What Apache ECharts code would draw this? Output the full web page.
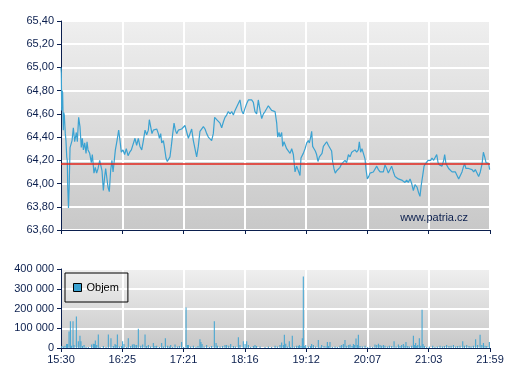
<!DOCTYPE html>
<html>
<head>
<meta charset="utf-8">
<script src="https://cdn.jsdelivr.net/npm/echarts@6/dist/echarts.min.js"></script>
<style>html,body{margin:0;padding:0;background:#fff}#c{width:507px;height:380px}</style>
</head>
<body>
<div id="c"></div>
<script>
// minutes after 15:30 -> price
var pricePoints = [
[0,65.00],[0.3,64.95],[0.6,64.63],[1.0,64.80],[1.5,64.78],[2.1,64.46],[2.5,64.61],[3.0,64.59],[3.9,64.43],[4.5,64.37],[5.2,64.23],[5.7,64.20],[6.1,63.97],[6.8,63.79],[7.4,63.97],[8.2,64.31],[8.8,64.31],[10.0,64.37],[11.2,64.48],[12.4,64.36],[13.9,64.44],[14.8,64.36],[16.0,64.57],[17.2,64.49],[18.4,64.31],[19.3,64.39],[20.3,64.29],[21.5,64.35],[22.7,64.26],[23.6,64.36],[24.5,64.29],[26.0,64.26],[27.5,64.18],[28.4,64.25],[29.9,64.09],[31.1,64.14],[32.3,64.09],[33.6,64.13],[35.1,64.20],[36.0,64.21],[37.2,64.11],[38.4,63.94],[39.6,64.06],[40.5,64.13],[41.7,64.13],[42.6,63.97],[43.8,63.93],[45.0,64.11],[46.2,64.20],[47.2,64.10],[48.1,64.18],[49.3,64.29],[50.8,64.37],[52.3,64.46],[53.5,64.37],[54.7,64.27],[56.2,64.29],[57.7,64.25],[59.2,64.30],[60.8,64.24],[62.3,64.27],[63.8,64.29],[65.3,64.30],
[67.1,64.39],[68.6,64.33],[70.1,64.39],[71.6,64.32],[73.2,64.29],[74.7,64.37],[76.2,64.46],[77.7,64.42],[79.2,64.46],[80.1,64.55],[81.3,64.49],[82.5,64.43],[83.7,64.46],[85.2,64.45],[86.8,64.47],[88.3,64.43],[89.2,64.39],[90.4,64.43],[91.3,64.35],[92.8,64.37],[93.7,64.32],[95.2,64.22],[96.4,64.19],[97.6,64.20],[98.8,64.23],[100.0,64.32],[101.3,64.43],[102.5,64.52],[103.7,64.46],[104.9,64.43],[106.4,64.46],[107.9,64.45],[109.4,64.47],[110.9,64.46],[112.4,64.50],[113.9,64.49],[115.5,64.39],[117.0,64.40],[118.5,64.47],[120.0,64.37],[121.5,64.36],[123.0,64.23],[124.5,64.32],[126.0,64.45],[127.6,64.46],[129.1,64.49],[130.6,64.47],
[132.1,64.43],[133.6,64.40],[135.1,64.39],[136.6,64.37],[138.1,64.43],[139.3,64.57],[141.2,64.55],[142.7,64.56],[144.2,64.52],[145.7,64.48],[147.2,64.53],[148.7,64.57],[150.2,64.59],[151.7,64.62],[153.3,64.60],[154.8,64.62],[156.3,64.59],[157.8,64.63],[159.3,64.66],[160.8,64.67],[162.3,64.72],[163.8,64.63],[165.3,64.60],[166.9,64.65],[168.4,64.69],[169.9,64.72],[171.4,64.73],[172.9,64.72],[174.4,64.70],[175.9,64.62],[177.4,64.60],[178.9,64.72],[180.5,64.63],[182.0,64.56],[183.5,64.60],[185.0,64.62],[186.5,64.63],[188.0,64.67],[189.5,64.65],[191.0,64.63],[192.5,64.63],[194.1,64.62],
[195.6,64.52],[196.5,64.40],[197.7,64.44],[198.6,64.40],[200.1,64.44],[201.0,64.32],[202.2,64.36],[203.7,64.35],[204.6,64.30],[206.1,64.29],[207.7,64.26],[209.2,64.30],[210.7,64.25],[212.2,64.10],[213.7,64.15],[215.2,64.11],[216.7,64.07],[217.6,64.22],[218.8,64.21],[219.7,64.26],[221.3,64.30],[222.8,64.35],[224.3,64.37],[225.2,64.35],[226.4,64.40],[227.3,64.45],[228.2,64.32],[229.4,64.30],[230.6,64.28],[231.8,64.25],[233.0,64.19],[234.3,64.23],[235.5,64.22],[236.7,64.26],[237.9,64.32],[239.4,64.33],[240.9,64.36],[242.4,64.33],[243.9,64.33],[245.4,64.28],[246.3,64.19],[247.5,64.13],[248.7,64.09],[250.0,64.11],[251.5,64.11],[253.0,64.14],
[254.5,64.17],[256.0,64.18],[257.5,64.20],[259.0,64.18],[260.6,64.25],[262.1,64.23],[263.6,64.27],[265.1,64.26],[266.6,64.29],[268.1,64.27],[269.6,64.29],[270.5,64.36],[271.7,64.27],[272.9,64.30],[274.2,64.26],[275.7,64.21],[276.6,64.12],[277.8,64.04],[279.0,64.06],[280.2,64.09],[281.7,64.09],[283.2,64.10],[284.7,64.09],[286.3,64.15],[287.8,64.12],[289.3,64.10],[290.8,64.09],[292.3,64.10],[293.8,64.16],[295.3,64.13],[296.8,64.09],[298.3,64.09],[299.8,64.15],[301.4,64.10],[302.9,64.06],[304.4,64.07],[305.9,64.04],[307.4,64.04],[308.9,64.03],[310.4,64.04],[311.9,64.01],[313.4,64.03],[314.9,64.01],[316.5,64.04],[318.0,64.00],[319.5,63.94],[321.0,63.99],
[322.8,63.97],[324.3,63.92],[325.5,63.89],[326.7,63.99],[328.0,64.07],[329.2,64.15],[330.4,64.17],[331.6,64.18],[332.8,64.20],[334.0,64.21],[335.2,64.20],[336.4,64.22],[337.9,64.20],[339.4,64.21],[340.7,64.25],[341.9,64.18],[343.1,64.16],[344.3,64.17],[345.5,64.15],[347.0,64.20],[347.9,64.25],[349.1,64.17],[350.3,64.15],[351.5,64.13],[353.0,64.12],[354.6,64.10],[356.1,64.09],[357.6,64.10],[359.1,64.07],[360.6,64.04],[362.1,64.07],[363.6,64.10],[365.1,64.15],[366.0,64.17],[367.2,64.13],[368.4,64.12],[369.6,64.13],[371.2,64.12],[372.7,64.12],[374.2,64.10],[375.7,64.12],[377.2,64.09],[378.7,64.06],[380.2,64.10],[381.8,64.17],[383.0,64.27],[384.2,64.23],[385.4,64.18],[386.6,64.17],[387.8,64.17],[388.7,64.12]
];
var referencePrice = 64.165;
// minutes after 15:30 -> volume
var volumePoints = [
[0.6,10000],[2.1,8000],[3.6,12000],[5.1,20000],[6.0,20000],[7.3,84000],[8.5,135000],[9.4,12000],[10.9,135000],[11.8,15000],[13.9,160000],[15.7,34000],[17.2,62000],[18.1,34000],[19.4,10000],[20.9,15000],[22.7,5000],[24.8,5000],[27.8,18000],[29.3,22000],[30.2,20000],[31.1,38000],[32.4,15000],[33.8,68000],[35.4,5000],[38.4,10000],[40.8,5000],[42.9,68000],[45.3,50000],[47.4,10000],[49.0,20000],[49.9,15000],[51.1,68000],[52.9,8000],[55.0,10000],[55.9,34000],[57.1,20000],[59.6,5000],[61.0,50000],[63.2,10000],[64.7,18000],[66.2,20000],[67.1,15000],[68.6,15000],[70.1,98000],[72.3,12000],[74.1,18000],[76.2,68000],[77.7,10000],[79.2,15000],[81.3,8000],[83.7,25000],[85.2,10000],[86.8,12000],[89.2,5000],[91.3,25000],[92.8,8000],[94.6,50000],[96.7,12000],[98.2,8000],[99.5,15000],[101.3,5000],[103.4,18000],[105.5,8000],[107.3,10000],[109.4,30000],[111.2,5000],[113.4,205000],[114.6,15000],[115.5,15000],[117.6,8000],[120.0,12000],[122.4,5000],[124.2,10000],[126.0,44000],[126.9,30000],[127.9,20000],[129.7,8000],[132.1,15000],[134.5,5000],[136.6,10000],[139.0,135000],[140.6,25000],[141.8,12000],[144.2,8000],[146.6,10000],[148.7,15000],[150.2,15000],[152.1,12000],[153.9,20000],[156.3,10000],[158.1,8000],[160.8,54000],[162.3,15000],[165.3,34000],[166.9,20000],[168.4,34000],[169.9,15000],[172.0,5000],[174.4,10000],[175.9,15000],[177.4,10000],
[180.5,8000],[185.0,5000],[188.0,8000],[191.0,5000],[194.1,12000],[196.2,8000],[198.6,15000],[200.1,28000],[201.6,15000],[202.5,67000],[203.8,22000],[205.2,8000],[207.0,34000],[208.3,5000],[209.7,62000],[211.5,8000],[213.7,12000],[215.2,10000],[216.1,15000],[217.6,10000],[218.8,50000],[219.7,362000],[220.6,10000],[221.9,15000],[224.3,8000],[226.4,10000],[227.3,20000],[228.8,15000],[230.9,8000],[233.3,40000],[234.9,5000],[236.4,15000],[238.5,10000],[240.3,8000],[241.5,30000],[242.7,10000],[243.9,30000],[246.0,5000],[248.5,8000],[250.6,5000],[253.0,12000],[254.5,15000],[256.0,20000],[257.5,40000],[259.1,12000],[260.9,15000],[262.1,18000],[263.9,10000],[265.1,20000],[266.3,15000],[267.5,48000],[268.7,15000],[269.6,67000],[271.1,10000],[273.2,8000],[275.7,12000],[277.8,5000],[280.2,8000],[282.6,5000],[284.7,18000],[286.3,15000],[287.8,22000],[289.3,15000],[290.8,12000],[292.3,15000],[293.8,12000],[295.9,8000],[297.7,12000],[299.9,10000],[302.0,34000],[303.8,8000],[305.9,18000],[307.4,10000],[308.9,15000],[310.4,20000],[311.9,12000],[312.8,30000],[314.4,10000],[315.8,8000],[318.0,12000],[319.5,62000],[320.7,15000],[321.6,25000],[322.6,10000],[323.5,15000],[324.9,50000],[326.2,12000],[327.4,194000],[328.3,20000],[329.5,10000],[331.6,5000],[334.0,8000],[337.1,12000],[339.1,5000],[341.2,8000],[343.7,12000],[345.8,8000],[347.6,10000],[349.7,15000],[351.8,10000],[353.7,12000],[355.8,15000],[357.9,8000],[359.7,10000],[361.8,12000],[364.3,34000],[365.8,12000],[367.9,15000],[370.0,10000],[371.8,8000],[373.9,12000],[376.0,44000],[377.8,15000],[380.0,67000],[381.6,15000],[383.0,25000],[384.5,12000],[386.1,10000],[388.4,30000]
];
var timeTickLabels = ['15:30','16:25','17:21','18:16','19:12','20:07','21:03','21:59'];
var sessionMinutes = 389;
var priceMin = 63.6, priceMax = 65.4, priceStep = 0.2;
var volMax = 400000, volStep = 100000;

var NAVY = '#0b1f4e';
var FONT = '"Liberation Sans", Arial, sans-serif';
var tickStep = sessionMinutes / (timeTickLabels.length - 1);
function bg() {
  return new echarts.graphic.LinearGradient(0, 0, 0, 1, [
    {offset: 0, color: '#efefef'}, {offset: 1, color: '#c8c8c8'}
  ]);
}
function timeFmt(v) {
  var i = Math.round(v / tickStep);
  return timeTickLabels[i] || '';
}
var chart = echarts.init(document.getElementById('c'), null, {renderer: 'canvas'});
var xCommon = {
  type: 'value', min: 0, max: sessionMinutes, interval: tickStep,
  axisLine: {show: true, lineStyle: {color: NAVY, width: 1}},
  axisTick: {show: true, length: 4, lineStyle: {color: NAVY}},
  splitLine: {show: true, lineStyle: {color: '#ffffff', width: 2}}
};
chart.setOption({
  animation: false,
  textStyle: {fontFamily: FONT},
  title: {
    text: 'www.patria.cz', right: 34, top: 207,
    textStyle: {fontSize: 11, fontWeight: 'normal', color: NAVY, fontFamily: FONT}
  },
  legend: {
    left: 65, top: 273, padding: [8, 9, 8, 8],
    borderColor: '#000', borderWidth: 1,
    itemWidth: 8, itemHeight: 8, itemGap: 5, icon: 'rect',
    itemStyle: {borderColor: '#000', borderWidth: 1},
    textStyle: {fontSize: 11, lineHeight: 13, color: '#000', fontFamily: FONT},
    data: ['Objem']
  },
  grid: [
    {left: 61, top: 21, width: 429, height: 209, show: true, borderWidth: 0, backgroundColor: bg()},
    {left: 61, top: 269, width: 429, height: 79, show: true, borderWidth: 0, backgroundColor: bg()}
  ],
  xAxis: [
    Object.assign({}, xCommon, {gridIndex: 0, axisLabel: {show: false}}),
    Object.assign({}, xCommon, {gridIndex: 1, axisLabel: {show: true, color: NAVY, fontSize: 11, margin: 6, formatter: timeFmt, fontFamily: FONT}})
  ],
  yAxis: [
    {
      type: 'value', gridIndex: 0, min: priceMin, max: priceMax, interval: priceStep,
      axisLine: {show: true, lineStyle: {color: NAVY}},
      axisTick: {show: true, length: 4, lineStyle: {color: NAVY}},
      axisLabel: {color: NAVY, fontSize: 11, margin: 7, fontFamily: FONT,
        formatter: function (v) { return v.toFixed(2).replace('.', ','); }},
      splitLine: {show: true, lineStyle: {color: '#ffffff', width: 2}}
    },
    {
      type: 'value', gridIndex: 1, min: 0, max: volMax, interval: volStep,
      axisLine: {show: true, lineStyle: {color: NAVY}},
      axisTick: {show: true, length: 4, lineStyle: {color: NAVY}},
      axisLabel: {color: NAVY, fontSize: 11, margin: 7, fontFamily: FONT,
        formatter: function (v) { return String(Math.round(v)).replace(/\B(?=(\d{3})+(?!\d))/g, ' '); }},
      splitLine: {show: true, lineStyle: {color: '#ffffff', width: 2}}
    }
  ],
  series: [
    {
      name: 'Cena', type: 'line', xAxisIndex: 0, yAxisIndex: 0,
      data: pricePoints, showSymbol: false, symbol: 'none',
      lineStyle: {color: '#3aa2d2', width: 1.2}, itemStyle: {color: '#3aa2d2'},
      markLine: {
        silent: true, symbol: 'none', label: {show: false},
        lineStyle: {color: '#e2261c', width: 1.5, type: 'solid'},
        data: [{yAxis: referencePrice}]
      },
      z: 3
    },
    {
      name: 'Objem', type: 'bar', xAxisIndex: 1, yAxisIndex: 1,
      data: volumePoints, barWidth: 1,
      itemStyle: {color: '#3aa2d2'}
    }
  ]
});
</script>
</body>
</html>
